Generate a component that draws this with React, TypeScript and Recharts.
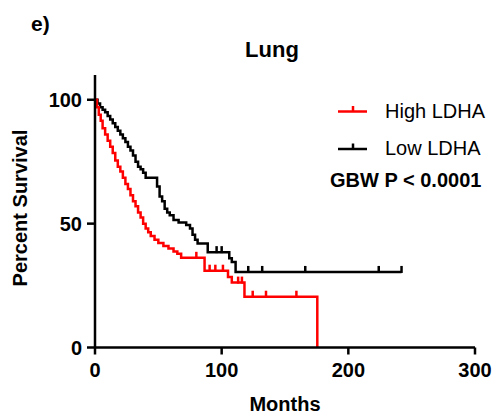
import React from 'react'
import { ComposedChart, Line, Scatter, XAxis, YAxis } from 'recharts'

// Kaplan-Meier steps (months, percent surviving)
const lowTimes = [0, 2, 4, 6, 8, 10, 12, 14, 16, 18, 20, 22, 24, 26, 28, 30, 32, 34, 36, 38, 40, 49, 51, 53, 55, 57, 59, 62, 66, 72, 75, 77, 79, 81, 89, 106, 108, 111, 242]
const lowSurv = [100, 98.5, 97, 96, 95, 93.5, 92, 90.5, 89, 87.5, 86, 84.5, 83, 81, 79.5, 77.5, 75, 73, 72, 70.5, 68.5, 65, 61, 59, 56, 54.5, 53.4, 51.5, 50.5, 49.4, 48, 45.5, 43.5, 42, 38.5, 36, 34.5, 30.5, 30.5]
const lowCensor = [96, 100, 121, 132, 166, 224, 242]

const highTimes = [0, 1.5, 3, 4.5, 6, 8, 10, 12, 14, 16, 18, 20, 22, 24, 26, 28, 30, 32, 34, 36, 38, 40, 42, 44, 47, 50, 54, 58, 62, 65, 68, 86.5, 105, 108, 118, 175.5]
const highSurv = [100, 97, 94, 91.5, 88.5, 86, 83.5, 81, 78.5, 75.5, 73, 71, 68.5, 66, 64, 61.5, 59, 57, 54.5, 52.5, 50, 48, 46.5, 45, 43.5, 42.2, 41, 40, 38.8, 37.8, 36.2, 31, 28.5, 26.2, 20.5, 0]
const highCensor = [80, 90.5, 95, 101, 113, 116, 124.5, 135, 159]

const xTicks = [0, 100, 200, 300]
const yTicks = [0, 50, 100]

const FONT = '"Liberation Sans", Arial, sans-serif'
const RED = '#ff0000'
const BLACK = '#000000'

const toRows = (times: number[], vals: number[]) => times.map((t, i) => ({ t, s: vals[i] }))

const survAt = (times: number[], vals: number[], t: number) => {
  let s = vals[0]
  times.forEach((tt, i) => {
    if (tt <= t) s = vals[i]
  })
  return s
}

const lowData = toRows(lowTimes, lowSurv)
const highData = toRows(highTimes, highSurv)
const lowMarks = lowCensor.map((t) => ({ t, s: survAt(lowTimes, lowSurv, t) }))
const highMarks = highCensor.map((t) => ({ t, s: survAt(highTimes, highSurv, t) }))

const censorShape = (color: string) => (props: any) => {
  const { cx, cy } = props
  return <line x1={cx} x2={cx} y1={cy - 6} y2={cy + 1} stroke={color} strokeWidth={2.5} />
}

const tickStyle = { fill: '#000', fontSize: 20, fontWeight: 'bold' as const, fontFamily: FONT }

export default function App() {
  return (
    <div style={{ position: 'absolute', left: 0, top: 0, width: 494, height: 415, background: '#fff' }}>
      <ComposedChart width={494} height={415} margin={{ top: 75, right: 19, bottom: 37.5, left: 35 }}>
        <XAxis
          type="number"
          dataKey="t"
          domain={[0, 300]}
          ticks={xTicks}
          height={30}
          axisLine={{ stroke: '#000', strokeWidth: 2.5 }}
          tickLine={{ stroke: '#000', strokeWidth: 2.5 }}
          tickSize={7}
          tickMargin={8}
          tick={tickStyle}
        />
        <YAxis
          type="number"
          dataKey="s"
          domain={[0, 110]}
          ticks={yTicks}
          width={60}
          axisLine={{ stroke: '#000', strokeWidth: 2.5 }}
          tickLine={{ stroke: '#000', strokeWidth: 2.5 }}
          tickSize={8}
          tickMargin={5}
          tick={tickStyle}
        />
        <Line data={lowData} dataKey="s" type="stepAfter" stroke={BLACK} strokeWidth={2.5} dot={false} isAnimationActive={false} />
        <Line data={highData} dataKey="s" type="stepAfter" stroke={RED} strokeWidth={2.5} dot={false} isAnimationActive={false} />
        <Scatter data={lowMarks} dataKey="s" shape={censorShape(BLACK)} isAnimationActive={false} />
        <Scatter data={highMarks} dataKey="s" shape={censorShape(RED)} isAnimationActive={false} />
      </ComposedChart>
      <svg width={494} height={415} style={{ position: 'absolute', left: 0, top: 0, pointerEvents: 'none' }}>
        <g fontFamily={FONT} fill="#000">
          <text x={31} y={31} fontSize={21} fontWeight="bold">e)</text>
          <text x={272} y={57} fontSize={22} fontWeight="bold" textAnchor="middle">Lung</text>
          <text x={285} y={411} fontSize={20} fontWeight="bold" textAnchor="middle">Months</text>
          <text x={0} y={0} fontSize={20} fontWeight="bold" textAnchor="middle" transform="translate(27,208) rotate(-90)">Percent Survival</text>
          <line x1={338} x2={367} y1={111.5} y2={111.5} stroke={RED} strokeWidth={2.5} />
          <line x1={353} x2={353} y1={106} y2={111.5} stroke={RED} strokeWidth={2.5} />
          <text x={385} y={118} fontSize={20}>High LDHA</text>
          <line x1={338} x2={367} y1={149} y2={149} stroke={BLACK} strokeWidth={2.5} />
          <line x1={353} x2={353} y1={143.5} y2={149} stroke={BLACK} strokeWidth={2.5} />
          <text x={385} y={155} fontSize={20}>Low LDHA</text>
          <text x={330} y={187} fontSize={20} fontWeight="bold">GBW P &lt; 0.0001</text>
        </g>
      </svg>
    </div>
  )
}
